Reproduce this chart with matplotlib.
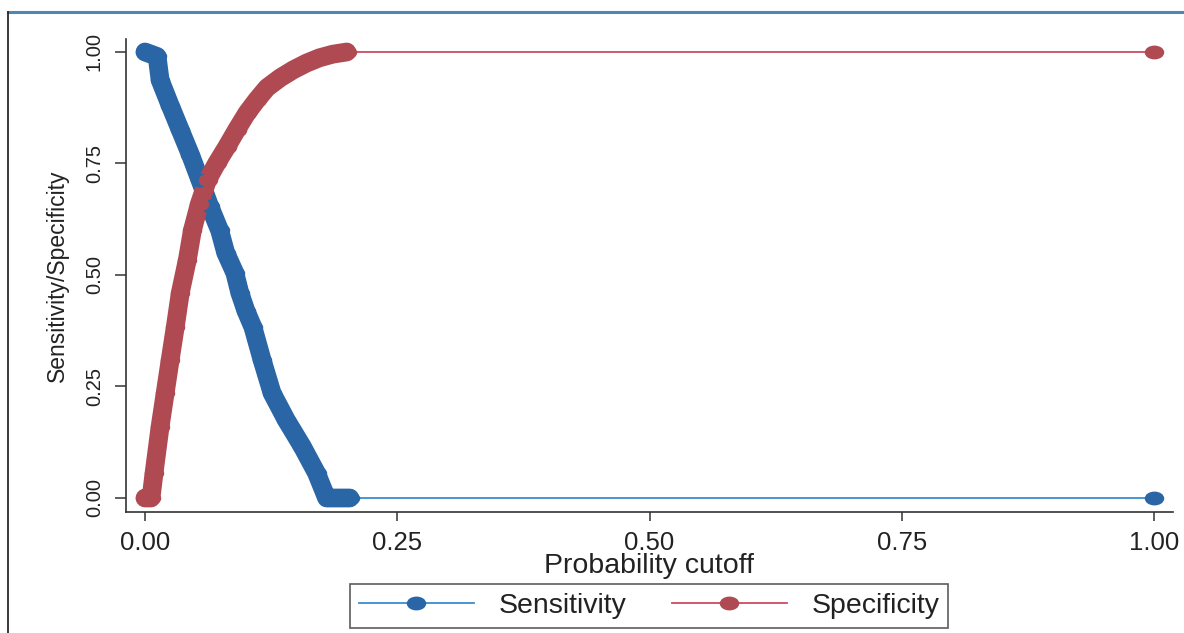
import numpy as np
import matplotlib
matplotlib.use('Agg')
import matplotlib.pyplot as plt
from matplotlib.path import Path
from matplotlib.transforms import Affine2D
from matplotlib.lines import Line2D

# values
sens_cutoff = [0.000, 0.012, 0.015, 0.025, 0.035, 0.045, 0.0545, 0.064, 0.074, 0.080,
               0.089, 0.094, 0.100, 0.107, 0.116, 0.126, 0.140, 0.156, 0.170, 0.180,
               0.190, 0.203, 1.000]
sensitivity = [1.000, 0.990, 0.937, 0.880, 0.825, 0.770, 0.713, 0.655, 0.600, 0.550,
               0.505, 0.460, 0.420, 0.383, 0.310, 0.235, 0.175, 0.115, 0.056, 0.000,
               0.000, 0.000, 0.000]

spec_cutoff = [0.000, 0.006, 0.009, 0.015, 0.020, 0.025, 0.030, 0.035, 0.042, 0.047,
               0.054, 0.062, 0.071, 0.081, 0.091, 0.101, 0.111, 0.121, 0.134, 0.147,
               0.160, 0.173, 0.186, 0.200, 1.000]
specificity = [0.000, 0.000, 0.056, 0.160, 0.235, 0.310, 0.383, 0.460, 0.534, 0.600,
               0.660, 0.713, 0.750, 0.787, 0.826, 0.863, 0.893, 0.920, 0.942, 0.960,
               0.975, 0.987, 0.995, 1.000, 1.000]

x_ticks = [0.0, 0.25, 0.5, 0.75, 1.0]
y_ticks = [0.0, 0.25, 0.5, 0.75, 1.0]

blue_dot = '#2a66a6'
blue_line = '#3a8dd0'
red_dot = '#b04a52'
red_line = '#cf4a62'
txt = '#222222'

plt.rcParams['font.family'] = ['Liberation Sans', 'DejaVu Sans']

# squashed circle, the scan is flattened vertically
oval = Path.unit_circle().transformed(Affine2D().scale(1.45, 1.0))

fig = plt.figure(figsize=(11.84, 6.33), dpi=100)
ax = fig.add_axes([126/1184, 1-512/633, 1047/1184, 473/633])

for xs, ys, dot, line in [(sens_cutoff, sensitivity, blue_dot, blue_line),
                          (spec_cutoff, specificity, red_dot, red_line)]:
    xs = np.array(xs)
    ys = np.array(ys)
    dense = xs < 0.5
    ax.plot(xs, ys, color=line, lw=1.3, zorder=2)
    ax.plot(xs[dense], ys[dense], color=dot, lw=13.5, solid_capstyle='round',
            solid_joinstyle='round', zorder=3)
    ax.plot(xs, ys, ls='none', marker=oval, ms=13, color=dot, mec=dot, zorder=4)

ax.set_xlim(-0.0188, 1.0188)
ax.set_ylim(-0.0314, 1.0291)
ax.set_xticks(x_ticks)
ax.set_xticklabels(['%.2f' % v for v in x_ticks], fontsize=18.5, color=txt)
ax.set_yticks(y_ticks)
ax.set_yticklabels(['%.2f' % v for v in y_ticks], fontsize=14.5, color=txt,
                   rotation=90, va='center')
ax.tick_params(axis='x', length=6.5, width=1.1, color='#333333', pad=7)
ax.tick_params(axis='y', length=8, width=1.1, color='#333333', pad=8)
ax.spines[['right', 'top']].set_visible(False)
ax.spines[['bottom', 'left']].set_color('#333333')
ax.spines[['bottom', 'left']].set_linewidth(1.2)

ax.set_xlabel('Probability cutoff', fontsize=20.5, color=txt, va='top')
ax.xaxis.set_label_coords(0.5, -0.086)
ax.set_ylabel('Sensitivity/Specificity', fontsize=16.5, color=txt)
ax.yaxis.set_label_coords(-0.054, 0.5)

handles = [Line2D([], [], color=blue_line, lw=1.3, marker=oval, ms=13, mfc=blue_dot, mec=blue_dot),
           Line2D([], [], color=red_line, lw=1.3, marker=oval, ms=13, mfc=red_dot, mec=red_dot)]
leg = fig.legend(handles, ['Sensitivity', 'Specificity'], ncol=2, loc='center',
                 bbox_to_anchor=(649/1184, 1-606/633), fontsize=20.5, frameon=True,
                 fancybox=False, handlelength=4.05, handletextpad=0.85, columnspacing=1.6,
                 borderpad=0.3, borderaxespad=0)
leg.get_frame().set_edgecolor('#333333')
leg.get_frame().set_linewidth(1.2)
for t in leg.get_texts():
    t.set_color(txt)

# frame lines left over from the scanned page
fig.add_artist(Line2D([8/1184, 1], [1-12/633, 1-12/633], color='#4f86b4', lw=2.2))
fig.add_artist(Line2D([8/1184, 8/1184], [0, 1-12/633], color='#2a2a2a', lw=1.3))

fig.savefig('out.png', dpi=100)
